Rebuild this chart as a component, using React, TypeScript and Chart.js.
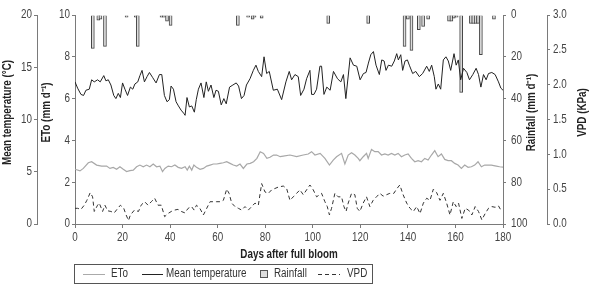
import React, { useEffect, useRef } from "react";
import { Chart, registerables } from "chart.js";

Chart.register(...registerables);

const FONT = "'Liberation Sans', Arial, sans-serif";
const NARROW = 0.82; // horizontal squeeze to imitate a narrow typeface

// Days after full bloom (x ticks)
const X_MIN = 0;
const X_MAX = 180;

// Mean temperature (°C)
const tempDays = [0, 1.1, 2.5, 3.6, 4.6, 6.0, 7.0, 8.1, 9.5, 10.6, 12.1, 13.0, 14.0, 15.1, 16.3, 17.2, 18.2, 19.1, 20.0, 21.0, 22.1, 23.3, 24.3, 25.2, 26.4, 27.3, 28.2, 29.2, 30.3, 31.3, 32.7, 34.1, 35.5, 36.5, 37.6, 38.7, 39.7, 40.4, 41.4, 42.5, 43.5, 44.6, 45.7, 46.3, 47.1, 48.1, 49.1, 50.2, 51.0, 51.9, 53.0, 54.2, 55.2, 56.1, 57.2, 58.4, 59.3, 60.3, 61.5, 62.6, 63.6, 65.0, 66.4, 67.8, 68.8, 70.0, 71.1, 72.1, 73.6, 75.0, 76.1, 77.1, 78.5, 79.5, 80.6, 81.7, 83.4, 85.1, 86.9, 88.7, 90.1, 91.1, 92.5, 93.9, 94.9, 96.3, 97.4, 98.8, 99.5, 100.5, 101.6, 103.0, 103.7, 104.7, 105.9, 107.3, 108.7, 110.4, 111.8, 112.9, 113.9, 115.7, 117.1, 118.5, 119.9, 121.3, 122.4, 123.4, 124.4, 125.5, 126.6, 128.0, 129.0, 130.0, 130.8, 131.8, 133.2, 134.3, 135.3, 136.0, 137.0, 137.8, 138.8, 139.8, 140.6, 142.0, 143.3, 144.8, 146.2, 147.9, 149.0, 150.0, 151.1, 151.8, 152.8, 153.8, 154.9, 156.0, 157.0, 158.0, 159.4, 160.3, 161.2, 162.2, 163.4, 164.8, 165.9, 167.3, 168.7, 169.7, 170.7, 171.8, 172.9, 173.9, 175.3, 176.7, 178.1, 179.1, 180];
const tempValues = [13.6, 13.0, 12.4, 12.3, 12.8, 12.9, 13.8, 13.6, 13.8, 13.6, 14.2, 13.7, 13.8, 13.3, 12.3, 12.0, 12.5, 12.1, 13.5, 12.9, 12.3, 13.1, 12.9, 13.4, 13.6, 14.2, 14.7, 13.6, 14.1, 14.5, 14.0, 13.5, 14.3, 14.3, 12.3, 11.7, 11.9, 13.2, 12.9, 11.7, 11.3, 10.9, 10.6, 10.4, 12.1, 11.2, 11.3, 10.7, 11.9, 12.9, 13.5, 12.1, 13.6, 12.7, 13.3, 12.1, 12.8, 12.7, 11.4, 12.0, 11.5, 13.1, 13.3, 13.5, 13.2, 12.0, 12.3, 13.3, 13.9, 14.7, 15.2, 14.6, 14.1, 16.0, 14.4, 14.6, 12.8, 12.9, 11.9, 13.6, 14.6, 13.8, 14.3, 14.1, 12.3, 12.9, 13.9, 14.7, 12.4, 12.4, 12.9, 15.1, 15.1, 12.4, 13.1, 12.8, 14.6, 13.9, 13.6, 14.3, 12.0, 15.9, 15.2, 15.1, 13.8, 14.4, 14.5, 15.4, 16.2, 16.5, 15.2, 14.3, 15.7, 15.6, 14.7, 15.2, 15.1, 15.6, 16.3, 15.7, 16.2, 14.7, 15.6, 15.7, 15.2, 14.4, 14.6, 14.1, 14.4, 15.1, 14.6, 15.2, 14.1, 12.9, 13.4, 12.9, 15.7, 16.0, 15.6, 14.7, 16.3, 15.2, 15.7, 13.8, 14.9, 14.5, 13.8, 14.3, 14.9, 14.3, 13.1, 14.3, 13.8, 14.4, 14.5, 14.3, 13.6, 13.0, 12.8];

// ETo (mm d-1)
const etoDays = [0, 2.1, 3.5, 5.6, 7.0, 9.1, 11.2, 13.3, 14.7, 16.1, 17.5, 18.9, 20.3, 21.7, 23.1, 24.5, 25.9, 27.3, 28.7, 30.1, 31.5, 32.9, 34.3, 35.7, 36.8, 37.8, 39.2, 40.6, 42.0, 43.4, 44.8, 46.3, 47.2, 48.1, 49.1, 50.0, 51.1, 52.6, 54.0, 55.4, 56.8, 58.2, 59.6, 61.0, 62.4, 63.8, 65.2, 66.6, 68.0, 69.4, 70.8, 72.3, 73.7, 75.1, 76.5, 77.9, 79.3, 80.7, 82.0, 83.5, 84.8, 86.3, 87.6, 90.4, 93.2, 96.0, 98.1, 99.5, 100.9, 103.1, 105.1, 107.0, 108.6, 110.0, 112.1, 113.5, 114.9, 116.3, 117.7, 119.1, 119.8, 121.2, 122.6, 123.3, 124.7, 126.1, 127.5, 128.9, 130.3, 131.7, 133.1, 134.5, 135.9, 137.3, 138.7, 140.1, 141.5, 142.9, 144.3, 145.7, 147.1, 148.5, 149.9, 151.3, 152.7, 154.1, 155.5, 156.9, 158.3, 159.7, 161.1, 162.5, 163.9, 165.3, 166.7, 168.1, 169.5, 170.9, 172.3, 173.7, 175.1, 177.2, 178.6, 180];
const etoValues = [2.62, 2.54, 2.66, 2.93, 2.98, 2.82, 2.77, 2.77, 2.66, 2.71, 2.62, 2.74, 2.62, 2.51, 2.55, 2.58, 2.74, 2.82, 2.74, 2.82, 2.74, 2.87, 2.74, 2.77, 2.51, 2.66, 2.77, 2.74, 2.82, 2.71, 2.66, 2.74, 2.58, 2.77, 2.58, 2.82, 2.71, 2.62, 2.66, 2.77, 2.82, 2.87, 2.87, 2.90, 2.93, 2.98, 2.90, 2.82, 2.77, 2.87, 2.66, 2.87, 2.90, 2.98, 3.14, 3.46, 3.38, 3.14, 3.19, 3.30, 3.30, 3.22, 3.25, 3.30, 3.22, 3.30, 3.35, 3.46, 3.30, 3.38, 3.14, 2.82, 3.06, 3.22, 3.38, 2.87, 3.30, 3.41, 3.30, 3.14, 3.03, 3.22, 3.38, 3.14, 3.57, 3.46, 3.46, 3.30, 3.35, 3.30, 3.38, 3.30, 3.38, 3.22, 3.30, 3.35, 3.14, 2.98, 3.03, 2.98, 3.14, 3.06, 3.30, 3.51, 3.22, 3.35, 3.09, 3.03, 3.03, 2.90, 2.82, 2.66, 2.82, 2.71, 2.74, 2.82, 2.98, 2.74, 2.82, 2.82, 2.82, 2.77, 2.74, 2.72];

// VPD (KPa)
const vpdDays = [0, 1.1, 2.5, 3.9, 5.0, 6.4, 7.4, 8.1, 9.5, 10.2, 11.6, 12.6, 13.7, 15.1, 16.5, 18.0, 19.1, 20.5, 21.5, 22.5, 23.3, 25.0, 26.7, 27.8, 29.3, 30.7, 32.1, 33.5, 34.9, 36.3, 37.7, 39.1, 40.5, 41.9, 43.3, 44.7, 46.2, 47.6, 49.0, 50.1, 51.1, 52.5, 54.0, 55.4, 56.8, 58.2, 59.6, 61.0, 62.4, 63.8, 64.8, 65.9, 67.3, 68.7, 70.1, 71.5, 72.9, 74.3, 75.7, 77.1, 78.5, 79.9, 81.3, 82.7, 84.1, 85.5, 87.6, 89.0, 90.4, 91.8, 93.2, 94.6, 96.0, 97.4, 98.8, 100.2, 101.6, 103.7, 105.1, 106.1, 107.0, 107.9, 109.3, 110.7, 112.1, 113.1, 114.0, 114.9, 116.3, 117.7, 118.7, 119.8, 121.2, 122.6, 124.0, 125.4, 126.8, 128.2, 129.6, 131.0, 132.4, 134.1, 135.2, 136.6, 138.0, 139.5, 140.9, 142.3, 143.7, 145.1, 146.5, 147.9, 149.3, 150.7, 152.1, 153.5, 154.9, 156.3, 157.7, 159.1, 160.3, 161.3, 162.7, 164.1, 165.5, 166.9, 168.3, 169.7, 171.1, 172.5, 173.9, 175.3, 176.7, 178.1, 179.1];
const vpdValues = [0.225, 0.225, 0.21, 0.27, 0.34, 0.45, 0.39, 0.18, 0.27, 0.30, 0.18, 0.27, 0.19, 0.18, 0.16, 0.225, 0.27, 0.225, 0.13, 0.05, 0.13, 0.20, 0.18, 0.27, 0.32, 0.27, 0.32, 0.37, 0.27, 0.27, 0.105, 0.15, 0.18, 0.20, 0.21, 0.18, 0.16, 0.225, 0.25, 0.20, 0.27, 0.225, 0.13, 0.225, 0.32, 0.32, 0.32, 0.32, 0.34, 0.50, 0.44, 0.30, 0.25, 0.225, 0.20, 0.25, 0.20, 0.25, 0.30, 0.27, 0.58, 0.46, 0.44, 0.49, 0.51, 0.53, 0.545, 0.51, 0.34, 0.39, 0.44, 0.49, 0.42, 0.49, 0.56, 0.49, 0.39, 0.44, 0.32, 0.25, 0.13, 0.225, 0.44, 0.39, 0.39, 0.25, 0.18, 0.30, 0.44, 0.42, 0.225, 0.18, 0.30, 0.39, 0.25, 0.34, 0.39, 0.44, 0.40, 0.42, 0.44, 0.44, 0.50, 0.56, 0.42, 0.30, 0.225, 0.18, 0.25, 0.15, 0.30, 0.37, 0.34, 0.50, 0.45, 0.34, 0.44, 0.30, 0.13, 0.32, 0.25, 0.30, 0.08, 0.225, 0.20, 0.13, 0.25, 0.18, 0.06, 0.15, 0.225, 0.25, 0.24, 0.26, 0.20];

// Rainfall (mm d-1)
const rainDays = [7.5, 9.8, 10.7, 12.6, 21.7, 25.6, 26.4, 36.4, 37.4, 38.7, 40.2, 68.5, 72.8, 74.7, 75.5, 78.5, 106.5, 123.3, 138.6, 140.0, 141.5, 144.6, 146.4, 148.5, 157.3, 158.3, 159.3, 160.5, 162.4, 166.5, 167.5, 168.5, 169.5, 170.7, 176.2];
const rainValues = [16, 2.5, 2, 15, 1, 1, 15, 1, 1, 3, 5, 5, 1, 2, 1, 1.5, 4, 4, 15, 2, 17, 7, 5.5, 2, 3, 3, 1.5, 1, 37, 4, 4, 4, 4, 19, 2];

const toPoints = (xs: number[], ys: number[]) => xs.map((x, i) => ({ x, y: ys[i] }));

const AXIS_COLOR = "#7a7a7a";
const TICK_COLOR = "#444";

const customText = {
  id: "customText",
  afterDraw(chart: any) {
    const ctx = chart.ctx as CanvasRenderingContext2D;
    const area = chart.chartArea;
    const s = chart.scales;
    ctx.save();
    ctx.fillStyle = "#222";
    ctx.font = `bold 12px ${FONT}`;
    ctx.textAlign = "center";
    ctx.textBaseline = "middle";
    ctx.fillText("Days after full bloom", (area.left + area.right) / 2, area.bottom + 31);

    const rot = (text: string, x: number, y: number) => {
      ctx.save();
      ctx.translate(x, y);
      ctx.rotate(-Math.PI / 2);
      ctx.fillText(text, 0, 0);
      ctx.restore();
    };
    const midY = (area.top + area.bottom) / 2 - 7;
    rot("Mean temperature (°C)", s.yTemp.left + 8, midY);
    rot("ETo (mm d\u207B\u00B9)", s.yEto.left + 10, midY);
    rot("Rainfall (mm d\u207B\u00B9)", s.yRain.left + 29, midY);
    rot("VPD (KPa)", s.yVpd.left + 36, midY);

    // Legend
    const lx = Math.round(area.left) - 1;
    const ly = Math.round(area.bottom) + 40;
    const lw = 298;
    const lh = 19;
    ctx.strokeStyle = "#555";
    ctx.lineWidth = 1;
    ctx.strokeRect(lx + 0.5, ly + 0.5, lw, lh);
    const cy = ly + 10;
    ctx.font = `12px ${FONT}`;
    ctx.fillStyle = "#333";
    ctx.textAlign = "left";

    const seg = (x1: number, x2: number, color: string, dash: number[]) => {
      ctx.save();
      ctx.strokeStyle = color;
      ctx.lineWidth = 1;
      ctx.setLineDash(dash);
      ctx.beginPath();
      ctx.moveTo(x1, cy + 0.5);
      ctx.lineTo(x2, cy + 0.5);
      ctx.stroke();
      ctx.restore();
    };
    seg(lx + 9, lx + 31, "#aaa", []);
    ctx.fillText("ETo", lx + 37, cy);
    seg(lx + 68, lx + 89, "#222", []);
    ctx.fillText("Mean temperature", lx + 92, cy);
    ctx.fillStyle = "#ddd";
    ctx.fillRect(lx + 186, cy - 4, 8, 8);
    ctx.strokeStyle = "#555";
    ctx.strokeRect(lx + 186.5, cy - 3.5, 7, 7);
    ctx.fillStyle = "#333";
    ctx.fillText("Rainfall", lx + 200, cy);
    seg(lx + 244, lx + 266, "#333", [4, 3]);
    ctx.fillText("VPD", lx + 273, cy);
    ctx.restore();
  },
};

const yAxis = (extra: any) => ({
  grid: { display: true, drawOnChartArea: false, drawTicks: true, tickLength: 3, color: AXIS_COLOR },
  border: { display: true, color: AXIS_COLOR, width: 1 },
  title: { display: false },
  ...extra,
});

function narrowText(ctx: CanvasRenderingContext2D) {
  const anyCtx = ctx as any;
  if (anyCtx.__narrow) return;
  const orig = ctx.fillText.bind(ctx);
  anyCtx.fillText = (text: string, x: number, y: number, maxWidth?: number) => {
    ctx.save();
    ctx.translate(x, y);
    ctx.scale(NARROW, 1);
    if (maxWidth === undefined) orig(text, 0, 0);
    else orig(text, 0, 0, maxWidth / NARROW);
    ctx.restore();
  };
  anyCtx.__narrow = true;
}

export default function App() {
  const canvasRef = useRef<HTMLCanvasElement | null>(null);

  useEffect(() => {
    const canvas = canvasRef.current;
    if (!canvas) return;
    const ctx2d = canvas.getContext("2d");
    if (ctx2d) narrowText(ctx2d);
    Chart.defaults.font.family = FONT;
    const tickFont = { family: FONT, size: 12 };
    const chart = new Chart(canvas, {
      type: "line",
      data: {
        datasets: [
          {
            type: "bar",
            label: "Rainfall",
            data: toPoints(rainDays, rainValues),
            yAxisID: "yRain",
            xAxisID: "x",
            backgroundColor: "#dcdcdc",
            borderColor: "#444",
            borderWidth: 1,
            barThickness: 3,
            order: 4,
          } as any,
          {
            label: "ETo",
            data: toPoints(etoDays, etoValues),
            yAxisID: "yEto",
            borderColor: "#a8a8a8",
            borderWidth: 1.2,
            pointRadius: 0,
            tension: 0,
            order: 3,
          },
          {
            label: "VPD",
            data: toPoints(vpdDays, vpdValues),
            yAxisID: "yVpd",
            borderColor: "#333",
            borderWidth: 1,
            borderDash: [4, 3],
            pointRadius: 0,
            tension: 0,
            order: 2,
          },
          {
            label: "Mean temperature",
            data: toPoints(tempDays, tempValues),
            yAxisID: "yTemp",
            borderColor: "#222",
            borderWidth: 1,
            pointRadius: 0,
            tension: 0,
            order: 1,
          },
        ],
      },
      options: {
        animation: false,
        responsive: false,
        maintainAspectRatio: false,
        layout: { padding: { top: 15, left: 0, right: 0, bottom: 0 } },
        plugins: { legend: { display: false }, tooltip: { enabled: false } },
        scales: {
          x: {
            type: "linear",
            position: "bottom",
            offset: false,
            min: X_MIN,
            max: X_MAX,
            ticks: { stepSize: 20, color: TICK_COLOR, font: tickFont, padding: 2, maxRotation: 0 },
            grid: { display: true, offset: false, drawOnChartArea: false, drawTicks: true, tickLength: 4, color: AXIS_COLOR },
            border: { display: true, color: AXIS_COLOR },
            afterFit: (sc: any) => { sc.height = 72; },
          },
          yTemp: yAxis({
            position: "left",
            weight: 2,
            min: 0,
            max: 20,
            ticks: { stepSize: 5, color: TICK_COLOR, font: tickFont, padding: 2 },
            afterFit: (sc: any) => { sc.width = 37; },
          }),
          yEto: yAxis({
            position: "left",
            weight: 1,
            min: 0,
            max: 10,
            ticks: { stepSize: 2, color: TICK_COLOR, font: tickFont, padding: 2 },
            afterFit: (sc: any) => { sc.width = 38; },
          }),
          yRain: yAxis({
            position: "right",
            weight: 1,
            min: 0,
            max: 100,
            reverse: true,
            ticks: { stepSize: 20, color: TICK_COLOR, font: tickFont, padding: 5 },
            afterFit: (sc: any) => { sc.width = 44; },
          }),
          yVpd: yAxis({
            position: "right",
            weight: 2,
            min: 0,
            max: 3,
            ticks: { stepSize: 0.5, color: TICK_COLOR, font: tickFont, padding: 3, callback: (v: any) => Number(v).toFixed(1) },
            afterFit: (sc: any) => { sc.width = 43; },
          }),
        },
      } as any,
      plugins: [customText],
    });
    return () => chart.destroy();
  }, []);

  return (
    <div style={{ position: "fixed", left: 0, top: 0, width: 590, height: 296, background: "#fff" }}>
      <canvas ref={canvasRef} width={590} height={296} style={{ display: "block", width: 590, height: 296 }} />
    </div>
  );
}
